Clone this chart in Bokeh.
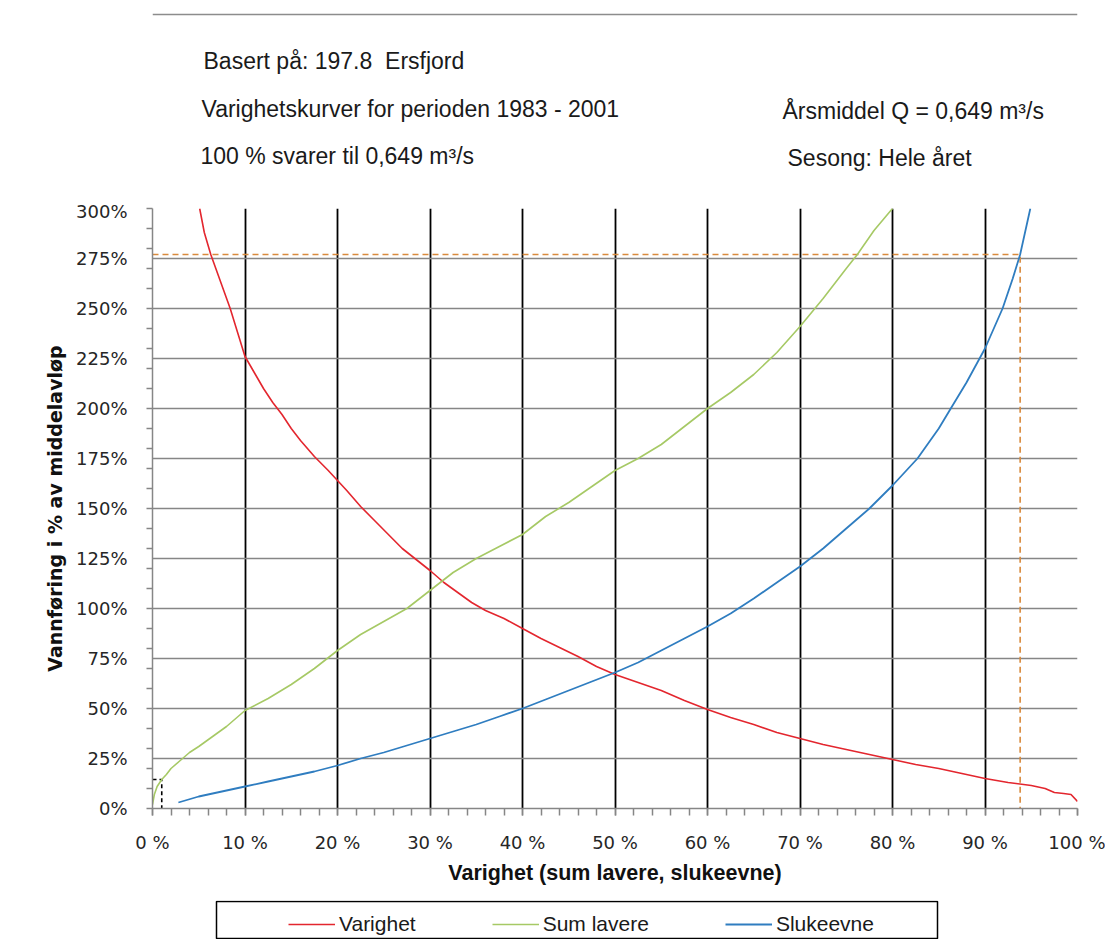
from bokeh.plotting import figure
from bokeh.layouts import column
from bokeh.models import (Range1d, FixedTicker, CustomJSTickFormatter, Legend,
                          LegendItem, Label, BoxAnnotation, Span)
from bokeh.embed import file_html
from bokeh.resources import INLINE

# ---------------- data (percent of duration, percent of mean flow) ----------------
varighet_x = [5.1, 5.6, 6.3, 7, 7.7, 8.4, 9.2, 10, 11, 12, 13, 14, 15, 16, 17.5, 19, 20, 21,
              22.5, 24, 25.5, 27, 28.5, 30, 31.5, 33, 34.5, 36, 38, 40, 42, 44, 46, 48, 50,
              52.5, 55, 57.5, 60, 62.5, 65, 67.5, 70, 72.5, 75, 77.5, 80, 82.5, 85, 87.5, 90,
              92.5, 95, 96.5, 97.5, 98.5, 99.3, 100]
varighet_y = [300, 288, 277, 268, 259, 250, 238, 226, 218, 210, 203, 197, 190, 184, 176, 169,
              164, 159, 151, 144, 137, 130, 124.5, 119, 113, 108, 103, 99, 95, 90, 85, 80.5,
              76, 71, 67, 63, 59, 54, 49.5, 45.5, 42, 38, 35, 32, 29.5, 27, 24.5, 22, 20,
              17.5, 15, 13, 11.5, 10, 8, 7.5, 7, 3.5]

sum_lavere_x = [0, 0.2, 0.5, 1, 1.5, 2, 3, 4, 5, 6.5, 8, 10, 12.5, 15, 17.5, 20, 22.5, 25,
                27.5, 30, 32.5, 35, 37.5, 40, 42.5, 45, 47.5, 50, 52.5, 55, 57.5, 60, 62.5,
                65, 67.5, 70, 72.5, 75, 76.2, 78, 80]
sum_lavere_y = [2, 7, 11, 14.5, 17, 20, 24, 28, 31, 36, 41, 49, 55, 62, 70, 79, 87, 93.5, 100,
                109, 118, 125, 131, 137, 146, 153, 161, 169, 175, 182, 191, 200, 208, 217,
                228, 241, 255, 270, 277, 289, 300]

slukeevne_x = [2.8, 5, 7.5, 10, 12.5, 15, 17.5, 20, 22.5, 25, 27.5, 30, 32.5, 35, 37.5, 40,
               42.5, 45, 47.5, 50, 52.5, 55, 57.5, 60, 62.5, 65, 67.5, 70, 72.5, 75, 77.5, 80,
               82.7, 85, 86.3, 88, 90, 91.9, 93, 93.8, 94.9]
slukeevne_y = [3, 6, 8.5, 11, 13.5, 16, 18.5, 21.5, 25, 28, 31.5, 35, 38.5, 42, 46, 50, 54.5,
               59, 63.5, 68, 73, 79, 85, 91, 97.5, 105, 113, 121, 130, 140, 150, 161.5, 175,
               190, 200, 213, 230, 250, 265, 277, 300]

# helper reading lines
orange_x = [0, 93.8, 93.8]
orange_y = [277, 277, 0]
black_x = [0, 1, 1]
black_y = [14.5, 14.5, 0]

x_ticks = [0, 10, 20, 30, 40, 50, 60, 70, 80, 90, 100]
x_minor = list(range(0, 101, 2))
y_ticks = [0, 25, 50, 75, 100, 125, 150, 175, 200, 225, 250, 275, 300]
y_minor = list(range(0, 301, 10))

series_names = ["Varighet", "Sum lavere", "Slukeevne"]
series_colors = ["#E3262E", "#A6C965", "#2F7DC0"]
series_widths = [1.6, 1.6, 1.8]

header_texts = ["Basert på: 197.8\u00a0 Ersfjord",
                "Varighetskurver for perioden 1983 - 2001",
                "100 % svarer til 0,649 m³/s",
                "Årsmiddel Q = 0,649 m³/s",
                "Sesong: Hele året"]

W = 1105
FL, FR = 152, 1077          # plot-area left / right edge (pixels)
GRAY = "#868686"
TICKFONT = "DejaVu Sans"


def bare(fig):
    fig.outline_line_color = None
    fig.xgrid.visible = False
    fig.ygrid.visible = False
    fig.background_fill_color = "white"
    fig.border_fill_color = "white"
    return fig


# ---------------- header (texts above the chart) ----------------
HH = 200
header = bare(figure(width=W, height=HH, output_backend="svg", toolbar_location=None,
                     x_range=Range1d(FL, FR), y_range=Range1d(HH, 0),
                     x_axis_location=None, y_axis_location=None,
                     min_border_left=FL, min_border_right=W - FR,
                     min_border_top=0, min_border_bottom=0))
header.add_layout(Span(location=14, dimension="width", line_color="#8c8c8c", line_width=1.5))
TXT = dict(text_font="Liberation Sans", text_font_size="23px", text_color="#1a1a1a",
           text_baseline="middle", text_align="left")
header_pos = [(203, 60), (201, 108), (200, 155), (782, 110), (787, 157)]
for (tx, ty), t in zip(header_pos, header_texts):
    header.add_layout(Label(x=tx, y=ty, text=t, **TXT))

# ---------------- main chart ----------------
MH = 700
p = figure(width=W, height=MH, output_backend="svg", toolbar_location=None,
           x_range=Range1d(0, 100), y_range=Range1d(0, 300),
           min_border_left=FL, min_border_right=W - FR, min_border_top=8,
           min_border_bottom=MH - 608)
p.outline_line_color = None
p.background_fill_color = "white"
p.border_fill_color = "white"

# x axis
xa = p.xaxis[0]
xa.ticker = FixedTicker(ticks=x_ticks, minor_ticks=x_minor)
xa.formatter = CustomJSTickFormatter(code="return tick.toFixed(0) + ' %';")
xa.axis_line_color = GRAY
xa.axis_line_width = 1.5
xa.major_tick_line_color = GRAY
xa.minor_tick_line_color = GRAY
xa.major_tick_line_width = 1.5
xa.minor_tick_line_width = 1.5
xa.major_tick_in = 0
xa.major_tick_out = 7
xa.minor_tick_in = 0
xa.minor_tick_out = 7
xa.major_label_text_font = TICKFONT
xa.major_label_text_font_size = "18px"
xa.major_label_text_color = "#262626"
xa.major_label_standoff = 16
xa.axis_label = "Varighet (sum lavere, slukeevne)"
xa.axis_label_text_font = "Liberation Sans"
xa.axis_label_text_font_style = "bold"
xa.axis_label_text_font_size = "21.5px"
xa.axis_label_text_color = "#111111"
xa.axis_label_standoff = 5

# y axis
ya = p.yaxis[0]
ya.ticker = FixedTicker(ticks=y_ticks, minor_ticks=y_minor)
ya.formatter = CustomJSTickFormatter(code="return tick.toFixed(0) + '%';")
ya.axis_line_color = GRAY
ya.axis_line_width = 1.5
ya.major_tick_line_color = None
ya.major_tick_in = 0
ya.major_tick_out = 0
ya.minor_tick_line_color = GRAY
ya.minor_tick_line_width = 1.5
ya.minor_tick_in = 0
ya.minor_tick_out = 6
ya.major_label_text_font = TICKFONT
ya.major_label_text_font_size = "18px"
ya.major_label_text_color = "#262626"
ya.major_label_standoff = 19
ya.axis_label = "Vannføring i % av middelavløp"
ya.axis_label_text_font = "DejaVu Sans"
ya.axis_label_text_font_style = "bold"
ya.axis_label_text_font_size = "19px"
ya.axis_label_text_color = "#111111"
ya.axis_label_standoff = 7

# grids
p.xgrid.ticker = FixedTicker(ticks=x_ticks[1:])
p.xgrid.grid_line_color = "black"
p.xgrid.grid_line_width = 1.8
p.ygrid.ticker = FixedTicker(ticks=y_ticks[1:])
p.ygrid.grid_line_color = GRAY
p.ygrid.grid_line_width = 1.5

# reading lines
p.line(orange_x, orange_y, line_color="#D98A3D", line_width=1.6, line_dash="6 4")
p.line(black_x, black_y, line_color="black", line_width=1.6, line_dash="4 3")

# series
series = [(varighet_x, varighet_y), (sum_lavere_x, sum_lavere_y), (slukeevne_x, slukeevne_y)]
for (sx, sy), c, w in zip(series, series_colors, series_widths):
    p.line(sx, sy, line_color=c, line_width=w)

# ---------------- footer with legend ----------------
FH = 39
footer = bare(figure(width=W, height=FH, output_backend="svg", toolbar_location=None,
                     x_range=Range1d(FL, FR), y_range=Range1d(FH, 0),
                     x_axis_location=None, y_axis_location=None,
                     min_border_left=FL, min_border_right=W - FR,
                     min_border_top=0, min_border_bottom=0))
footer.add_layout(BoxAnnotation(left=216, right=937, top=1, bottom=38,
                                fill_color=None, line_color="black", line_alpha=1.0,
                                line_width=1.5))
items = []
for name, c, w in zip(series_names, series_colors, series_widths):
    # legend swatch renderer (kept outside the visible range)
    r = footer.line([0, 1], [-50, -50], line_color=c, line_width=w)
    items.append(LegendItem(label=name, renderers=[r]))
legend = Legend(items=items, location=(292 - 4 - FL, 3), orientation="horizontal",
                padding=4, margin=0, spacing=76, glyph_width=47, glyph_height=20,
                label_standoff=4, label_height=20,
                label_text_font="Liberation Sans", label_text_font_size="21px",
                label_text_color="#1a1a1a",
                border_line_color=None, background_fill_alpha=0)
footer.add_layout(legend)

layout = column(header, p, footer, spacing=0)
open("out.html", "w").write(file_html(layout, INLINE))
